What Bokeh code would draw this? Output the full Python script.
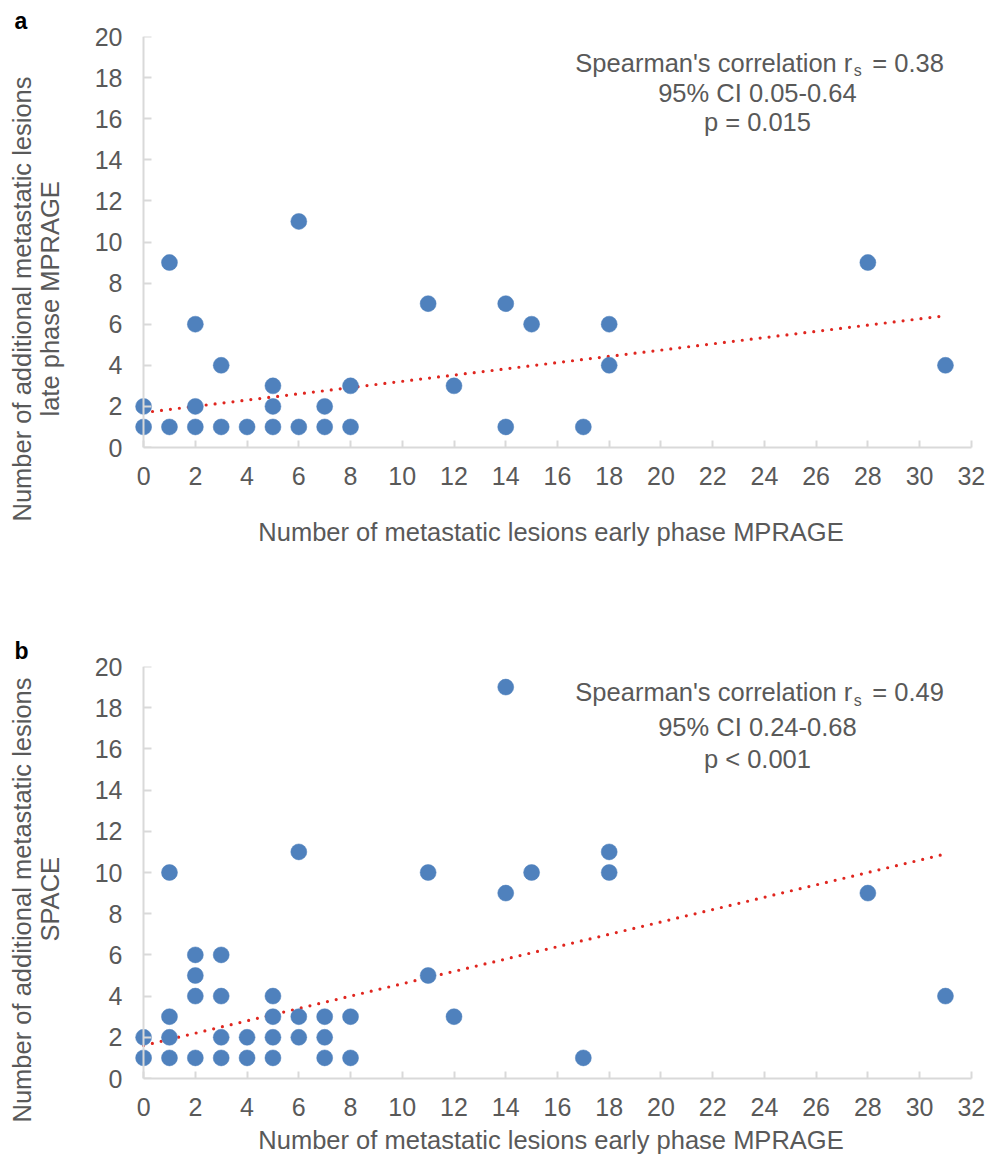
from bokeh.plotting import figure
from bokeh.models import Range1d, Label, FixedTicker, LinearAxis, Title
from bokeh.layouts import column
from bokeh.embed import file_html
from bokeh.resources import INLINE

# ---------------- data ----------------
# Panel a: early phase MPRAGE vs additional lesions late phase MPRAGE
xa = [0, 0, 1, 1, 2, 2, 2, 3, 3, 4, 5, 5, 5, 6, 6, 7, 7, 8, 8, 11, 12, 14, 14, 15, 17, 18, 18, 28, 31]
ya = [2, 1, 9, 1, 6, 2, 1, 4, 1, 1, 3, 2, 1, 11, 1, 2, 1, 3, 1, 7, 3, 7, 1, 6, 1, 6, 4, 9, 4]
trend_a = [1.7, 0.152]  # intercept, slope (linear trendline)
stats_a = ["0.38", "95% CI 0.05-0.64", "p = 0.015"]
ylabel_a = ["Number of additional metastatic lesions", "late phase MPRAGE"]

# Panel b: early phase MPRAGE vs additional lesions SPACE
xb = [0, 0, 1, 1, 1, 1, 2, 2, 2, 2, 3, 3, 3, 3, 4, 4, 5, 5, 5, 5, 6, 6, 6, 7, 7, 7, 8, 8,
      11, 11, 12, 14, 14, 15, 17, 18, 18, 28, 31]
yb = [2, 1, 10, 3, 2, 1, 6, 5, 4, 1, 6, 4, 2, 1, 2, 1, 4, 3, 2, 1, 11, 3, 2, 3, 2, 1, 3, 1,
      10, 5, 3, 19, 9, 10, 1, 11, 10, 9, 4]
trend_b = [1.6, 0.30]
stats_b = ["0.49", "95% CI 0.24-0.68", "p < 0.001"]
ylabel_b = ["Number of additional metastatic lesions", "SPACE"]

xlabel = "Number of metastatic lesions early phase MPRAGE"
x_ticks = list(range(0, 33, 2))
y_ticks = list(range(0, 21, 2))

FONT = "Liberation Sans"
GRAY = "#595959"
AXIS = "#d9d9d9"
BLUE = "#4f81bd"
RED = "#e0261f"
FS = "25.5px"

W = 998
LEFT = 125
FRAME_W = 851


def make_panel(xs, ys, trend, stats, ylab, letter, height, top, bottom, line_ys,
               xlab_standoff, ylab_offsets):
    p = figure(width=W, height=height, output_backend="svg", toolbar_location=None,
               x_range=Range1d(-0.7, 32.2), y_range=Range1d(0, 20),
               frame_width=FRAME_W, frame_height=height - top - bottom,
               min_border_left=LEFT, min_border_right=W - LEFT - FRAME_W,
               min_border_top=top, min_border_bottom=bottom)
    p.outline_line_color = None
    p.grid.visible = False

    # panel letter
    p.title = Title(text=letter, align="left", offset=-111, standoff=5,
                    text_font=FONT, text_font_size="23px", text_font_style="bold",
                    text_color="black")

    # x axis
    xa_ = p.xaxis[0]
    xa_.ticker = FixedTicker(ticks=x_ticks)
    xa_.bounds = (0, 32)
    xa_.axis_line_color = AXIS
    xa_.axis_line_width = 2
    xa_.major_tick_line_color = AXIS
    xa_.major_tick_line_width = 2
    xa_.minor_tick_line_color = None
    xa_.major_tick_out = 0
    xa_.major_tick_in = 7
    xa_.major_label_standoff = 19
    xa_.major_label_text_font = FONT
    xa_.major_label_text_font_size = "25px"
    xa_.major_label_text_color = GRAY
    xa_.axis_label = xlabel
    xa_.axis_label_text_font = FONT
    xa_.axis_label_text_font_size = FS
    xa_.axis_label_text_font_style = "normal"
    xa_.axis_label_text_color = GRAY
    xa_.axis_label_standoff = xlab_standoff

    # y axis: labels at the frame edge
    ya_ = p.yaxis[0]
    ya_.ticker = FixedTicker(ticks=y_ticks)
    ya_.axis_line_color = None
    ya_.major_tick_line_color = None
    ya_.minor_tick_line_color = None
    ya_.major_tick_in = 0
    ya_.major_tick_out = 0
    ya_.major_label_standoff = 3
    ya_.major_label_text_font = FONT
    ya_.major_label_text_font_size = "25px"
    ya_.major_label_text_color = GRAY

    # y axis line and inner ticks, crossing at x = 0
    yline = LinearAxis(fixed_location=0, ticker=FixedTicker(ticks=y_ticks),
                       axis_line_color=AXIS, axis_line_width=2,
                       major_tick_line_color=AXIS, major_tick_line_width=2,
                       minor_tick_line_color=None, major_tick_in=8, major_tick_out=0,
                       major_label_overrides={t: "" for t in y_ticks}, major_label_standoff=0)
    p.add_layout(yline, "left")

    # spacer between tick labels and the y axis title (one white outer tick)
    spacer = LinearAxis(ticker=FixedTicker(ticks=[0]), axis_line_color=None,
                        major_tick_line_color="white", minor_tick_line_color=None,
                        major_tick_in=0, major_tick_out=26, major_label_standoff=0,
                        major_label_overrides={0: ""})
    p.add_layout(spacer, "left")

    # y axis title, two centred lines (inner line first)
    p.add_layout(Title(text=ylab[1], align="left", vertical_align="top", offset=ylab_offsets[1],
                       standoff=0, text_font=FONT, text_font_size=FS, text_font_style="normal",
                       text_color=GRAY), "left")
    p.add_layout(Title(text=ylab[0], align="left", vertical_align="bottom", offset=ylab_offsets[0],
                       standoff=0, text_font=FONT, text_font_size=FS, text_font_style="normal",
                       text_color=GRAY), "left")

    # trendline
    tx = [min(xs), max(xs)]
    ty = [trend[0] + trend[1] * v for v in tx]
    p.line(tx, ty, line_color=RED, line_width=3.2, line_dash="0 9", line_cap="round")

    # scatter
    p.scatter(xs, ys, size=16, fill_color=BLUE, line_color=BLUE, line_width=0.5)

    # stats annotation
    ax0 = 27.4
    p.add_layout(Label(x=ax0, y=line_ys[0], text="Spearman's correlation r", text_align="right",
                       text_baseline="middle", text_font=FONT, text_font_size=FS, text_color=GRAY))
    p.add_layout(Label(x=ax0, y=line_ys[0], x_offset=1.5, y_offset=-8, text="s", text_align="left",
                       text_baseline="middle", text_font=FONT, text_font_size="16px", text_color=GRAY))
    p.add_layout(Label(x=ax0, y=line_ys[0], x_offset=20, text="= " + stats[0], text_align="left",
                       text_baseline="middle", text_font=FONT, text_font_size=FS, text_color=GRAY))
    p.add_layout(Label(x=23.73, y=line_ys[1], text=stats[1], text_align="center",
                       text_baseline="middle", text_font=FONT, text_font_size=FS, text_color=GRAY))
    p.add_layout(Label(x=23.73, y=line_ys[2], text=stats[2], text_align="center",
                       text_baseline="middle", text_font=FONT, text_font_size=FS, text_color=GRAY))
    return p


HA, HB = 618, 540
pa = make_panel(xa, ya, trend_a, stats_a, ylabel_a, "a", HA, 36, HA - 447,
                [18.73, 17.27, 15.82], 30, [-74, 31])
pb = make_panel(xb, yb, trend_b, stats_b, ylabel_b, "b", HB, 48, HB - 460,
                [18.74, 17.04, 15.53], 7, [-44, 137])

layout = column(pa, pb)
open("out.html", "w").write(file_html(layout, INLINE))
